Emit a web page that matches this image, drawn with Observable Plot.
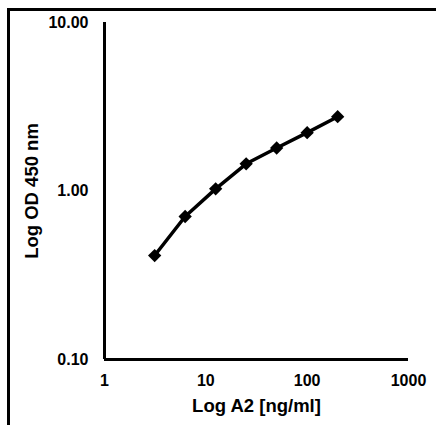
<!DOCTYPE html>
<html>
<head>
<meta charset="utf-8">
<script src="https://cdn.jsdelivr.net/npm/d3@7"></script>
<script src="https://cdn.jsdelivr.net/npm/@observablehq/plot@0.6"></script>
<style>
  html, body { margin: 0; padding: 0; background: #fff; overflow: hidden; width: 436px; height: 425px; }
  #frame { position: absolute; left: 7px; top: 8px; width: 500px; height: 500px; border: 3px solid #000; box-sizing: border-box; }
  #chart { position: absolute; left: 0; top: 0; }
  #chart svg { font-family: "Liberation Sans", Arial, sans-serif; font-weight: bold; color: #000; }
  #chart g[aria-label="x-axis label"] text, #chart g[aria-label="y-axis label"] text { font-size: 18.5px; }
</style>
</head>
<body>
<div id="frame"></div>
<div id="chart"></div>
<script>
const concentration = [3.125, 6.25, 12.5, 25, 50, 100, 200];
const od450 = [0.414, 0.706, 1.03, 1.45, 1.80, 2.22, 2.76];
const xTicks = [1, 10, 100, 1000];
const yTicks = [0.1, 1, 10];

const data = concentration.map((c, i) => ({x: c, y: od450[i]}));

const chart = Plot.plot({
  width: 436,
  height: 425,
  marginLeft: 104,
  marginTop: 22,
  marginRight: 28,
  marginBottom: 66,
  style: {background: "transparent", fontSize: "16px"},
  x: {type: "log", domain: [1, 1000]},
  y: {type: "log", domain: [0.1, 10]},
  marks: [
    Plot.axisX({ticks: xTicks, tickFormat: d => String(d), tickSize: 0, tickPadding: 15,
      label: "Log A2 [ng/ml]", labelAnchor: "center", labelArrow: "none", labelOffset: 52, fontSize: 16}),
    Plot.axisY({ticks: yTicks, tickFormat: d => d3.format(".2f")(d), tickSize: 0, tickPadding: 16,
      label: "Log OD 450 nm", labelAnchor: "center", labelArrow: "none", labelOffset: 80, fontSize: 16}),
    Plot.ruleX([1], {stroke: "#000", strokeWidth: 3}),
    Plot.ruleY([0.1], {stroke: "#000", strokeWidth: 3}),
    Plot.line(data, {x: "x", y: "y", stroke: "#000", strokeWidth: 3.5}),
    Plot.dot(data, {x: "x", y: "y", symbol: "diamond2", r: 6, fill: "#000", stroke: "none"})
  ]
});
document.getElementById("chart").appendChild(chart);
</script>
</body>
</html>
